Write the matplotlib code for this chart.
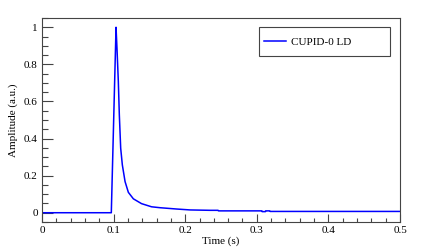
import matplotlib
matplotlib.use("Agg")
import matplotlib.pyplot as plt
from matplotlib.ticker import MultipleLocator, FuncFormatter
from matplotlib.patches import Rectangle

time_s = [0.0, 0.0968, 0.1034, 0.1047, 0.1066, 0.108, 0.1099, 0.1122, 0.116,
          0.1206, 0.1276, 0.139, 0.153, 0.165, 0.188, 0.207, 0.235, 0.246,
          0.2465, 0.307, 0.3075, 0.312, 0.3125, 0.318, 0.3185, 0.5]
amplitude = [0.0, 0.0, 1.0, 0.889, 0.708, 0.528, 0.348, 0.258, 0.168,
             0.11, 0.075, 0.049, 0.032, 0.027, 0.020, 0.015, 0.013, 0.013,
             0.010, 0.010, 0.006, 0.006, 0.010, 0.010, 0.007, 0.007]
series_label = "CUPID-0 LD"
x_label = "Time (s)"
y_label = "Amplitude (a.u.)"

plt.rcParams['font.family'] = ['Liberation Serif', 'DejaVu Serif']

fig = plt.figure(figsize=(4.21, 2.47), dpi=100)
ax = fig.add_axes([42/421, 25/247, 358/421, 204/247])

ax.plot(time_s, amplitude, color='#0000ff', lw=1.1, label=series_label)

ax.set_xlim(0, 0.5)
ax.set_ylim(-0.05, 1.05)
ax.xaxis.set_major_locator(MultipleLocator(0.1))
ax.xaxis.set_minor_locator(MultipleLocator(0.02))
ax.yaxis.set_major_locator(MultipleLocator(0.2))
ax.yaxis.set_minor_locator(MultipleLocator(0.05))
fmt = FuncFormatter(lambda v, p: ('%g' % round(v, 3)))
ax.xaxis.set_major_formatter(fmt)
ax.yaxis.set_major_formatter(fmt)

ax.tick_params(which='both', direction='in', top=False, right=False,
               labelsize=8, color='#444444', width=0.8)
ax.tick_params(axis='y', which='major', length=8, pad=3)
ax.tick_params(axis='y', which='minor', length=4)
ax.tick_params(axis='x', which='major', length=6, pad=3)
ax.tick_params(axis='x', which='minor', length=3)
for s in ax.spines.values():
    s.set_color('#444444')
    s.set_linewidth(0.8)

ax.set_xlabel(x_label, fontsize=8, labelpad=1)
ax.set_ylabel(y_label, fontsize=8, labelpad=4)

# legend box (ROOT TLegend style)
bx0, bx1, by0, by1 = 259, 390, 27, 56
ax.add_patch(Rectangle(((bx0-42)/358, (222-by1)/204), (bx1-bx0)/358, (by1-by0)/204,
                       transform=ax.transAxes, fill=True, facecolor='white',
                       edgecolor='#444444', lw=0.8, zorder=5, clip_on=False))
leg = ax.legend(loc='center left', bbox_to_anchor=((264-42)/358, (222-42.5)/204),
                fontsize=8, frameon=False, handlelength=2.0,
                borderpad=0, handletextpad=0.45, borderaxespad=0)
leg.set_zorder(6)

fig.savefig("out.png", dpi=100)
